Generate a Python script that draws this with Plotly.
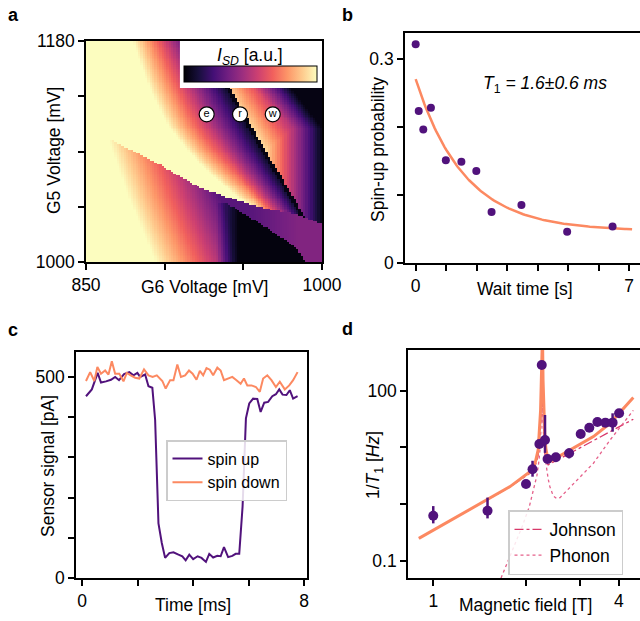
import numpy as np
import plotly.graph_objects as go

W, H = 640, 621
FONT = "Liberation Sans, Arial, sans-serif"
FS = 17.5
PURPLE = "#51127c"
ORANGE = "#fc8961"
JOHNSON_C = "#d8386a"
PHONON_C = "#e5608a"

# ---------------- panel a : charge stability map (features, mV) ----------------
L1_x = [850.0, 862.1, 895.1, 922.5, 943.4, 965.0, 986.0, 1000.6]      # lower transition line
L1_y = [1110.0, 1101.8, 1080.6, 1060.3, 1051.3, 1043.2, 1038.3, 1030.1]
L2_y = [1026.1, 1040.7, 1095.3, 1143.3, 1180.0]                        # steep transition line
L2_x = [992.4, 986.0, 960.6, 939.6, 923.7]
FL_y = [1000.0, 1050.5, 1101.8]                                        # fuzzy left front of lower lobe
FL_x = [892.6, 876.1, 862.1]
BK_x = [939.0, 965.0, 984.1, 989.8]                                    # black lobe upper edge
BK_y = [1048.0, 1027.7, 1011.4, 1000.0]
TR_y = [1109.1, 1148.2, 1180.0]                                        # black top-right corner edge
TR_x = [1000.0, 976.5, 956.8]
MARK_x = [926.7, 947.9, 968.7]
MARK_y = [1120.3, 1120.3, 1120.3]
MARK_t = ["e", "r", "w"]

# ---------------- panel b ----------------
WAIT_T = [0.0, 0.1, 0.25, 0.5, 0.99, 1.5, 1.99, 2.49, 3.47, 4.97, 6.46]
SPIN_UP_P = [0.321, 0.223, 0.196, 0.228, 0.151, 0.1485, 0.135, 0.0747, 0.085, 0.046, 0.0537]
FIT_A, FIT_C, FIT_T1 = 0.223, 0.047, 1.6

# ---------------- panel c ----------------
UP_T = [0.14, 0.35, 0.56, 0.68, 0.86, 1.04, 1.19, 1.33, 1.51, 1.70, 1.85, 1.99, 2.09, 2.27, 2.39, 2.53,
        2.63, 2.75, 2.87, 2.99, 3.14, 3.29, 3.47, 3.61, 3.73, 3.86, 4.0, 4.16, 4.30, 4.46, 4.58, 4.72,
        4.87, 4.99, 5.11, 5.26, 5.41, 5.53, 5.66, 5.78, 5.90, 6.02, 6.16, 6.31, 6.43, 6.56, 6.70, 6.85,
        6.98, 7.10, 7.22, 7.36, 7.48, 7.60, 7.76]
UP_S = [452, 469, 510, 486, 489, 493, 500, 492, 507, 512, 504, 510, 500, 506, 477, 473,
        393, 136, 87, 50, 62, 64, 58, 54, 44, 58, 47, 54, 50, 40, 60, 51,
        55, 54, 77, 52, 55, 60, 60, 178, 397, 434, 446, 445, 413, 436, 438, 452,
        457, 469, 456, 455, 467, 446, 452]
DN_T = [0.14, 0.29, 0.44, 0.55, 0.68, 0.83, 0.95, 1.07, 1.19, 1.34, 1.49, 1.61, 1.75, 1.91, 2.06, 2.23,
        2.39, 2.54, 2.69, 2.89, 3.01, 3.17, 3.29, 3.43, 3.56, 3.71, 3.85, 3.98, 4.12, 4.24, 4.36, 4.48,
        4.60, 4.72, 4.87, 4.99, 5.11, 5.26, 5.41, 5.56, 5.71, 5.83, 5.95, 6.10, 6.26, 6.40, 6.52, 6.67,
        6.82, 6.98, 7.12, 7.30, 7.46, 7.60, 7.76]
DN_S = [490, 512, 490, 525, 508, 516, 506, 539, 508, 508, 489, 510, 504, 498, 496, 519,
        504, 500, 504, 490, 471, 492, 492, 531, 500, 504, 516, 508, 493, 515, 504, 522,
        518, 504, 523, 516, 492, 496, 500, 492, 483, 496, 479, 479, 475, 463, 496, 504,
        492, 475, 488, 469, 479, 492, 512]

# ---------------- panel d ----------------
D_B = [1.0, 1.50, 2.0, 2.10, 2.21, 2.25, 2.305, 2.35, 2.50, 2.76, 3.01, 3.21, 3.41, 3.62, 3.82, 4.01]
D_G = [0.62, 0.76, 2.26, 4.1, 11.5, 284, 13.5, 6.24, 6.68, 7.87, 17.2, 22.2, 28.1, 27.3, 27.3, 39.9]
D_HI = [0.92, 1.30, 2.26, 5.8, 11.5, 284, 37.3, 6.24, 6.68, 9.6, 17.2, 22.2, 28.1, 27.3, 39.9, 39.9]
D_LO = [0.456, 0.558, 2.26, 3.04, 11.5, 284, 8.0, 6.24, 6.68, 6.4, 17.2, 22.2, 28.1, 27.3, 18.9, 39.9]
TOT_B = [0.898, 1.2, 1.5, 1.775, 2.06, 2.14, 2.19, 2.215, 2.23, 2.24, 2.25, 2.262, 2.272, 2.285, 2.30,
         2.32, 2.35, 2.39, 2.55, 2.78, 3.0, 3.31, 3.75, 4.1, 4.46]
TOT_G = [0.248, 0.61, 1.19, 2.03, 3.72, 5.25, 9.0, 20, 45, 120, 1000, 1000, 150, 50, 18,
         9.5, 6.6, 5.6, 6.87, 9.0, 11.4, 15.5, 26.6, 46.6, 76]
JOH_B = [0.898, 1.5, 1.775, 2.06, 2.14, 2.19, 2.215, 2.23, 2.245, 2.255, 2.265, 2.28, 2.30, 2.33,
         2.36, 2.6, 3.0, 3.5, 4.0, 4.41, 4.46]
JOH_G = [0.248, 1.19, 2.0, 3.5, 4.6, 7.2, 14, 25, 60, 90, 60, 20, 8, 5.5,
         4.9, 6.5, 9.9, 15.5, 22.9, 30.4, 31.4]
PHO_B = [1.55, 1.65, 1.80, 1.95, 2.05, 2.12, 2.17, 2.20, 2.22, 2.235, 2.25, 2.26, 2.275, 2.29, 2.30,
         2.33, 2.36, 2.39, 2.45, 2.51, 2.58, 2.68, 2.78, 3.0, 3.31, 3.75, 4.1, 4.41, 4.46]
PHO_G = [0.02, 0.045, 0.14, 0.42, 0.9, 1.8, 3.2, 5.5, 9.0, 20, 60, 50, 20, 12, 9,
         4.5, 2.8, 2.03, 1.4, 1.26, 1.3, 1.6, 2.03, 3.0, 5.25, 13.5, 25, 42.5, 45]

# ---------- build panel a map from the read features ----------
grid_x = np.arange(850.75, 1000, 1.5)
grid_y = np.arange(1000.75, 1180, 1.5)
SX, SY = 236 / 150, 221 / 180
X, Y = np.meshgrid(grid_x, grid_y)
pyy = 41 + (1180 - Y) * SY
d1 = (Y - np.interp(X, L1_x, L1_y)) * SY
d2 = (np.interp(Y, L2_y, L2_x) - X) * SX
d3 = (X - np.interp(Y, FL_y, FL_x)) * SX
bk = np.interp(X, BK_x, BK_y)
in_bk = (X >= BK_x[0] - 6) & (X <= BK_x[-1]) & (Y < bk)
dtr = (X - np.interp(Y, TR_y, TR_x)) * SX

tt = np.clip((pyy - 41) / 85, 0, 1)
wdt = 75 + 25 * tt
up = 0.06 + d2 / wdt + 0.45 * np.exp(-np.maximum(d1, 0) / 35) * np.clip(d2 / 40, 0, 1)
up = np.where(d2 < 12, np.minimum(up, 0.12 + d2 / 40), up)
topv = 0.9 + 0.1 * np.clip((pyy - 86) / 114, 0, 1)
rt = np.maximum(topv + d2 / 95, 0.35)
rt = np.minimum(rt, np.clip(0.03 - dtr / 25 * 0.4, 0.03, 1))
floor = 0.27 + 0.1 * np.clip((X - 955) / 30, 0, 1)
lo = np.maximum(np.clip(1.02 - d3 / 125, 0, 1), floor)
fade = np.clip((X - (BK_x[0] - 6)) * SX / 22, 0, 1)
lo = np.where(in_bk, lo * (1 - fade) + 0.02 * fade, lo)
Z = np.where(d1 > 0, np.where(d2 > 0, up, rt), lo)
Z = np.where((d1 > -1) & (np.abs(d2) < 2.2), 0.03, Z)
Z = np.clip(Z, 0, 1)


def dx(p0, p1):
    return [p0 / W, p1 / W]


def dy(top, bottom):
    return [1 - bottom / H, 1 - top / H]


def axis(rng, dom, tv, tt_, minor_v, anchor, typ="linear", mirror=True):
    return dict(domain=dom, range=rng, tickmode="array", tickvals=tv, ticktext=tt_, type=typ, anchor=anchor,
                ticks="outside", ticklen=6, tickwidth=1.5, tickcolor="black", automargin=False,
                minor=dict(tickmode="array", tickvals=minor_v, ticks="outside", ticklen=6, tickwidth=1.5,
                           tickcolor="black", showgrid=False),
                showline=True, linewidth=1.6, linecolor="black", mirror=mirror,
                showgrid=False, zeroline=False, tickfont=dict(size=FS, color="black"))


fig = go.Figure()

fig.add_trace(go.Heatmap(
    x=grid_x, y=grid_y, z=Z, colorscale="Magma", zmin=0, zmax=1, xaxis="x", yaxis="y",
    colorbar=dict(orientation="h", x=250.5 / W, xanchor="center", len=133 / W, lenmode="fraction",
                  y=1 - 83 / H, yanchor="bottom", thickness=16, xpad=0, ypad=0,
                  outlinewidth=1, outlinecolor="black", ticks="", showticklabels=False)))
fig.add_trace(go.Scatter(
    x=MARK_x, y=MARK_y, text=MARK_t, mode="markers+text", xaxis="x", yaxis="y",
    marker=dict(size=15, color="white", line=dict(color="black", width=1.2)),
    textposition="middle center", textfont=dict(size=11, color="black"), showlegend=False,
    hoverinfo="skip"))

# panel b
fit_t = np.linspace(0, 7.1, 150)
fig.add_trace(go.Scatter(x=fit_t, y=FIT_C + FIT_A * np.exp(-fit_t / FIT_T1), mode="lines",
                         line=dict(color=ORANGE, width=2.5), xaxis="x2", yaxis="y2", showlegend=False))
fig.add_trace(go.Scatter(x=WAIT_T, y=SPIN_UP_P, mode="markers", marker=dict(color=PURPLE, size=8),
                         xaxis="x2", yaxis="y2", showlegend=False))

# panel c
fig.add_trace(go.Scatter(x=UP_T, y=UP_S, mode="lines", name="spin up", line=dict(color=PURPLE, width=2),
                         xaxis="x3", yaxis="y3", legend="legend"))
fig.add_trace(go.Scatter(x=DN_T, y=DN_S, mode="lines", name="spin down", line=dict(color=ORANGE, width=2),
                         xaxis="x3", yaxis="y3", legend="legend"))

# panel d
fig.add_trace(go.Scatter(x=JOH_B, y=JOH_G, mode="lines", name="Johnson",
                         line=dict(color=JOHNSON_C, width=1.3, dash="dashdot"),
                         xaxis="x4", yaxis="y4", legend="legend2"))
fig.add_trace(go.Scatter(x=PHO_B, y=PHO_G, mode="lines", name="Phonon",
                         line=dict(color=PHONON_C, width=1.3, dash="dot"),
                         xaxis="x4", yaxis="y4", legend="legend2"))
fig.add_trace(go.Scatter(x=TOT_B, y=TOT_G, mode="lines", line=dict(color=ORANGE, width=3),
                         xaxis="x4", yaxis="y4", showlegend=False))
fig.add_trace(go.Scatter(
    x=D_B, y=D_G, mode="markers", marker=dict(color=PURPLE, size=10), xaxis="x4", yaxis="y4",
    error_y=dict(type="data", symmetric=False, array=[h - g for h, g in zip(D_HI, D_G)],
                 arrayminus=[g - l for g, l in zip(D_G, D_LO)], color=PURPLE, thickness=2.5, width=0),
    showlegend=False))

lay = dict(
    width=W, height=H, margin=dict(l=0, r=0, t=0, b=0, autoexpand=False),
    paper_bgcolor="white", plot_bgcolor="white",
    font=dict(family=FONT, size=FS, color="black"),
    xaxis=axis([850, 1000], dx(86, 322), [850, 1000], ["850", "1000"], [900, 950], "y"),
    yaxis=axis([1000, 1180], dy(41, 262), [1000, 1180], ["1000", "1180"], [1045, 1090, 1135], "x"),
    xaxis2=axis([-0.35, 7.36], dx(405, 640), [0, 7], ["0", "7"], [1, 2, 3, 4, 5, 6], "y2"),
    yaxis2=axis([0, 0.3377], dy(33, 263), [0, 0.3], ["0", "0.3"], [0.1, 0.2], "x2", mirror=False),
    xaxis3=axis([-0.22, 8.1], dx(76, 307), [0, 8], ["0", "8"], [2, 4, 6], "y3"),
    yaxis3=axis([0, 562], dy(352, 578), [0, 500], ["0", "500"], [100, 200, 300, 400], "x3"),
    xaxis4=axis([-0.082, 0.671], dx(408, 640), [1, 4], ["1", "4"], [2, 3], "y4", typ="log"),
    yaxis4=axis([-1.305, 2.718], dy(350, 578), [0.1, 100], ["0.1", "100"], [1, 10], "x4",
                typ="log", mirror=False),
    legend=dict(x=166 / W, y=1 - 440 / H, xanchor="left", yanchor="top", bgcolor="rgba(255,255,255,0.85)",
                bordercolor="#cccccc", borderwidth=1.5, font=dict(size=16), tracegroupgap=0),
    legend2=dict(x=508 / W, y=1 - 510 / H, xanchor="left", yanchor="top", bgcolor="rgba(255,255,255,0.85)",
                 bordercolor="#cccccc", borderwidth=1.5, font=dict(size=FS)),
    shapes=[dict(type="rect", xref="x", yref="y", x0=909.7, x1=1000, y0=1141.7, y1=1180,
                 fillcolor="white", line=dict(width=0), layer="above")],
)
fig.update_layout(**lay)


def ann(text, x, y, size=FS, angle=0, bold=False):
    fig.add_annotation(text=("<b>%s</b>" % text) if bold else text, x=x / W, y=1 - y / H,
                       xref="paper", yref="paper", showarrow=False, textangle=angle,
                       font=dict(size=size, color="black"), xanchor="center", yanchor="middle")


ann("<i>I</i><sub><i>SD</i></sub> [a.u.]", 250, 57)
ann("G6 Voltage [mV]", 204, 287)
ann("G5 Voltage [mV]", 54, 151, angle=-90)
ann("Wait time [s]", 525, 289)
ann("Spin-up probability", 378, 150, angle=-90)
ann("<i>T</i><sub>1</sub><i> = 1.6±0.6 ms</i>", 545, 85)
ann("Time [ms]", 193, 605)
ann("Sensor signal [pA]", 48, 466, angle=-90)
ann("Magnetic field [T]", 525, 605)
ann("1/<i>T</i><sub>1</sub> [<i>Hz</i>]", 374, 465, angle=-90)
ann("a", 13, 15, size=18, bold=True)
ann("b", 347, 15, size=18, bold=True)
ann("c", 13, 330, size=18, bold=True)
ann("d", 347, 329, size=18, bold=True)

fig.write_html("out.html")
